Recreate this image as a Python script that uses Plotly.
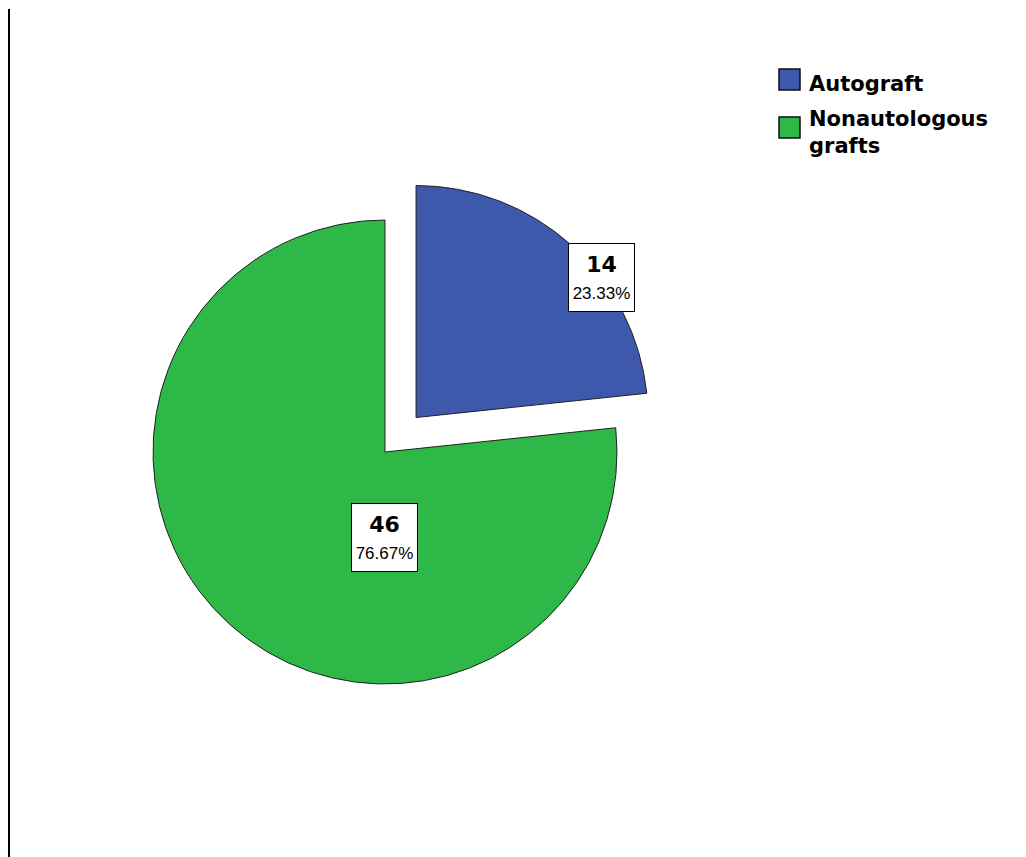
import plotly.graph_objects as go

labels = ["Autograft", "Nonautologous grafts"]
legend_text = ["Autograft", "Nonautologous<br>grafts"]
counts = [14, 46]
colors = ["#3E58AC", "#2EB848"]
pulls = [0.2, 0.0]

total = sum(counts)
pcts = [c / total * 100 for c in counts]

# figure sits inside the page body's 8px margin
W, H = 1018, 849

fig = go.Figure()
fig.add_trace(go.Pie(
    labels=labels,
    values=counts,
    sort=False,
    direction="clockwise",
    rotation=0,
    pull=pulls,
    marker=dict(colors=colors, line=dict(color="#222222", width=1)),
    textinfo="none",
    hoverinfo="label+value+percent",
    showlegend=False,
    domain=dict(x=[0.09685, 0.64381], y=[0.14912, 0.80494]),
))

# value labels (boxed)
label_pos = [(593.5, 269), (376, 529.5)]
for c, p, (px, py) in zip(counts, pcts, label_pos):
    fig.add_annotation(
        x=px / W, y=1 - py / H, xref="paper", yref="paper",
        xanchor="center", yanchor="middle",
        text=(f"<span style='font-family:DejaVu Sans;font-size:22px'><b>{c}</b></span>"
              f"<br><span style='font-size:17px'>{p:.2f}%</span>"),
        showarrow=False,
        font=dict(family="Liberation Sans, Arial", size=21, color="black"),
        bgcolor="white", bordercolor="black", borderwidth=1,
        width=59, height=61, borderpad=3,
    )

# custom legend (large square swatches)
sw_x0, sw_size = 771, 21
sw_y0 = [61, 109]
txt_y = [76, 125]
for name, col, y0, ty in zip(legend_text, colors, sw_y0, txt_y):
    fig.add_shape(type="rect", xref="paper", yref="paper",
                  x0=sw_x0 / W, x1=(sw_x0 + sw_size) / W,
                  y0=1 - y0 / H, y1=1 - (y0 + sw_size) / H,
                  fillcolor=col, line=dict(color="#111111", width=1.5))
    fig.add_annotation(
        x=(sw_x0 + sw_size + 7) / W, y=1 - ty / H, xref="paper", yref="paper",
        xanchor="left", yanchor="middle", align="left",
        text=f"<b>{name}</b>", showarrow=False,
        font=dict(family="DejaVu Sans", size=21, color="black"),
    )

# left frame line
fig.add_shape(type="line", xref="paper", yref="paper",
              x0=1 / W, x1=1 / W, y0=0, y1=1 - 1 / H,
              line=dict(color="black", width=2))

fig.update_layout(
    width=W, height=H,
    margin=dict(l=0, r=0, t=0, b=0),
    paper_bgcolor="white", plot_bgcolor="white",
    showlegend=False,
)

fig.write_html("out.html")
